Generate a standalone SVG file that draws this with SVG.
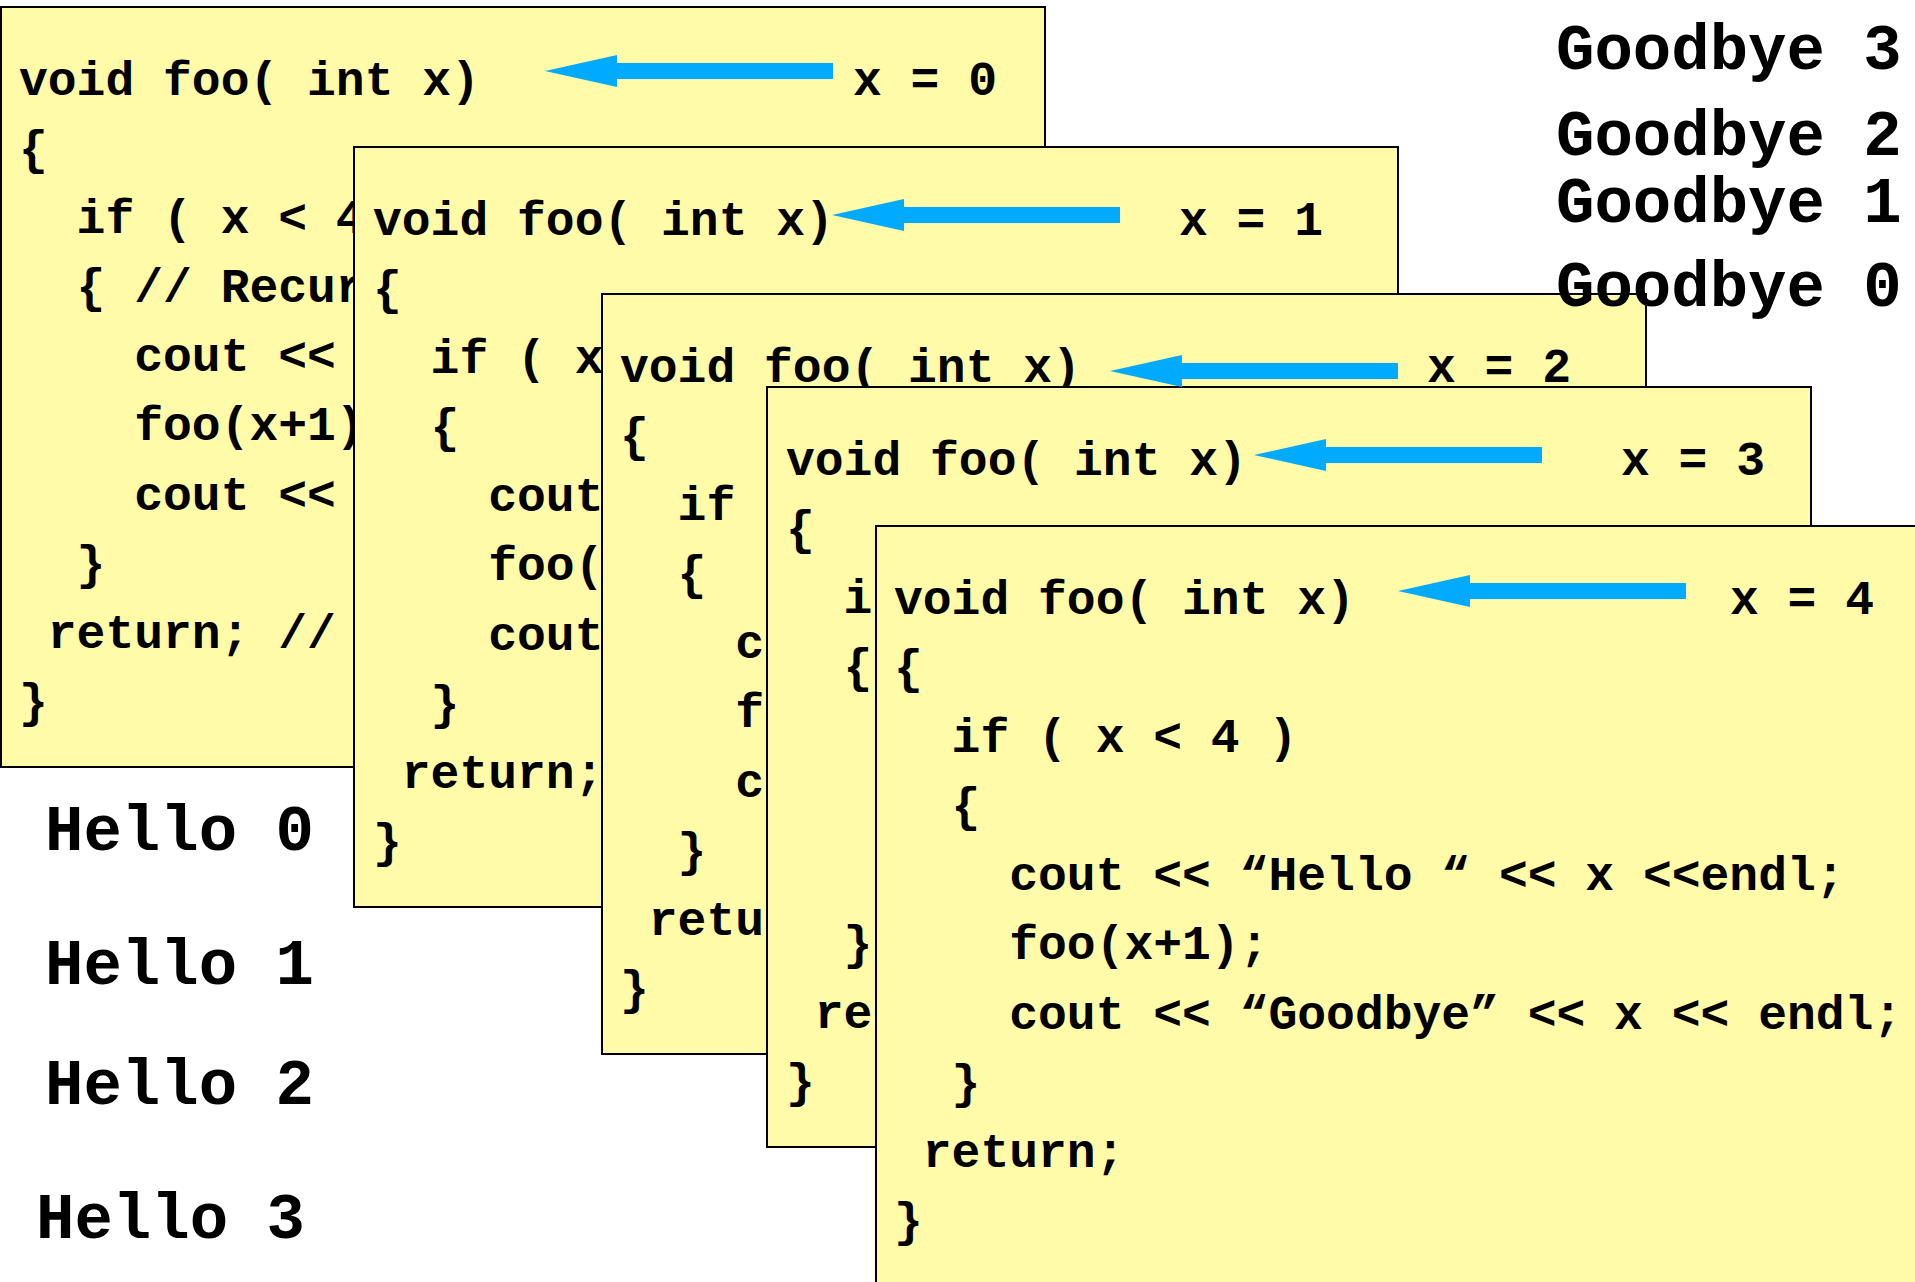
<svg xmlns="http://www.w3.org/2000/svg" width="1915" height="1282" viewBox="0 0 1915 1282">
<style>
.box{fill:#FFFBA8;stroke:#000;stroke-width:2}
.code{font-family:"Liberation Mono","Courier New",monospace;font-weight:bold;font-size:48px;fill:#000;white-space:pre}
.out{font-family:"Liberation Mono","Courier New",monospace;font-weight:bold;font-size:64px;fill:#000;white-space:pre}
.arrow{fill:#00AAFF}
</style>
<defs>
<path id="arr" d="M0,0 L72,-16 L72,-8 L288,-8 L288,8 L72,8 L72,16 Z"/>
</defs>
<rect width="1915" height="1282" fill="#fff"/>

<g id="frame0">
<rect class="box" x="1" y="7" width="1044" height="760"/>
<text class="code" x="19" y="95">void foo( int x)</text>
<text class="code" x="19" y="164">{</text>
<text class="code" x="19" y="233">  if ( x &lt; 4</text>
<text class="code" x="19" y="302">  { // Recur</text>
<text class="code" x="19" y="371">    cout &lt;&lt;</text>
<text class="code" x="19" y="440">    foo(x+1)</text>
<text class="code" x="19" y="510">    cout &lt;&lt;</text>
<text class="code" x="19" y="579">  }</text>
<text class="code" x="19" y="648"> return; //</text>
<text class="code" x="19" y="717">}</text>
<text class="code" x="853" y="95">x = 0</text>
</g>

<g id="hello-output">
<text class="out" x="45" y="850">Hello 0</text>
<text class="out" x="45" y="984">Hello 1</text>
<text class="out" x="45" y="1104">Hello 2</text>
<text class="out" x="36" y="1238">Hello 3</text>
</g>

<g id="frame1">
<rect class="box" x="354" y="147" width="1044" height="760"/>
<text class="code" x="373" y="235">void foo( int x)</text>
<text class="code" x="373" y="304">{</text>
<text class="code" x="373" y="373">  if ( x</text>
<text class="code" x="373" y="442">  {</text>
<text class="code" x="373" y="511">    cout</text>
<text class="code" x="373" y="580">    foo(</text>
<text class="code" x="373" y="650">    cout</text>
<text class="code" x="373" y="719">  }</text>
<text class="code" x="373" y="788"> return;</text>
<text class="code" x="373" y="857">}</text>
<text class="code" x="1179" y="235">x = 1</text>
</g>

<g id="frame2">
<rect class="box" x="602" y="294" width="1044" height="760"/>
<text class="code" x="620" y="382">void foo( int x)</text>
<text class="code" x="620" y="451">{</text>
<text class="code" x="620" y="520">  if</text>
<text class="code" x="620" y="589">  {</text>
<text class="code" x="620" y="658">    c</text>
<text class="code" x="620" y="727">    f</text>
<text class="code" x="620" y="797">    c</text>
<text class="code" x="620" y="866">  }</text>
<text class="code" x="620" y="935"> retu</text>
<text class="code" x="620" y="1004">}</text>
<text class="code" x="1427" y="382">x = 2</text>
</g>

<g id="frame3">
<rect class="box" x="767" y="387" width="1044" height="760"/>
<text class="code" x="786" y="475">void foo( int x)</text>
<text class="code" x="786" y="544">{</text>
<text class="code" x="786" y="613">  i</text>
<text class="code" x="786" y="682">  {</text>
<text class="code" x="786" y="959">  }</text>
<text class="code" x="786" y="1028"> re</text>
<text class="code" x="786" y="1097">}</text>
<text class="code" x="1621" y="475">x = 3</text>
</g>

<g id="frame4">
<rect class="box" x="876" y="526" width="1044" height="780"/>
<text class="code" x="894" y="614">void foo( int x)</text>
<text class="code" x="894" y="683">{</text>
<text class="code" x="894" y="752">  if ( x &lt; 4 )</text>
<text class="code" x="894" y="821">  {</text>
<text class="code" x="894" y="890">    cout &lt;&lt; “Hello “ &lt;&lt; x &lt;&lt;endl;</text>
<text class="code" x="894" y="959">    foo(x+1);</text>
<text class="code" x="894" y="1029">    cout &lt;&lt; “Goodbye” &lt;&lt; x &lt;&lt; endl;</text>
<text class="code" x="894" y="1098">  }</text>
<text class="code" x="894" y="1167"> return;</text>
<text class="code" x="894" y="1236">}</text>
<text class="code" x="1730" y="614">x = 4</text>
</g>

<g id="goodbye-output">
<text class="out" x="1556" y="69">Goodbye 3</text>
<text class="out" x="1556" y="155">Goodbye 2</text>
<text class="out" x="1556" y="222">Goodbye 1</text>
<text class="out" x="1556" y="306">Goodbye 0</text>
</g>

<g id="connectors" class="arrow">
<use href="#arr" x="545" y="71"/>
<use href="#arr" x="832" y="215"/>
<use href="#arr" x="1110" y="371"/>
<use href="#arr" x="1254" y="455"/>
<use href="#arr" x="1398" y="591"/>
</g>
</svg>
